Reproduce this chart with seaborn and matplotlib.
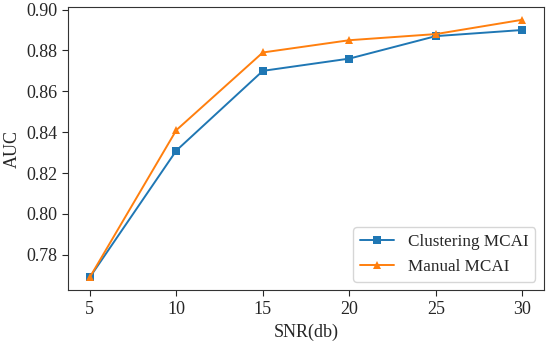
import pandas as pd
import matplotlib
matplotlib.use("Agg")
import matplotlib.pyplot as plt
import seaborn as sns

snr = [5, 10, 15, 20, 25, 30]
clustering_auc = [0.769, 0.831, 0.870, 0.876, 0.887, 0.890]
manual_auc = [0.769, 0.841, 0.879, 0.885, 0.888, 0.895]

df = pd.DataFrame({
    "SNR": snr * 2,
    "AUC": clustering_auc + manual_auc,
    "Method": ["Clustering MCAI"] * len(snr) + ["Manual MCAI"] * len(snr),
})

sns.set_style("ticks")
plt.rcParams["font.family"] = ["Liberation Serif", "DejaVu Serif"]
plt.rcParams["font.size"] = 13

fig = plt.figure(figsize=(5.5, 3.45), dpi=100)
ax = fig.add_axes([0.124, 0.159, 0.865, 0.821])

sns.lineplot(data=df, x="SNR", y="AUC", hue="Method", style="Method",
             markers=["s", "^"], dashes=False,
             palette=["#1f77b4", "#ff7f0e"], markersize=6,
             markeredgewidth=0, linewidth=1.4, ax=ax)

ax.set_xlabel("SNR(db)", fontsize=13)
ax.set_ylabel("AUC", fontsize=13)
ax.set_xticks(snr)
ax.set_yticks([0.78, 0.80, 0.82, 0.84, 0.86, 0.88, 0.90])
ax.yaxis.set_major_formatter(matplotlib.ticker.FormatStrFormatter("%.2f"))
ax.tick_params(labelsize=13, length=4, pad=4)
for s in ax.spines.values():
    s.set_color("#333333")
ax.legend(loc="lower right", fontsize=12.3, title=None)

fig.savefig("out.png", dpi=100)
